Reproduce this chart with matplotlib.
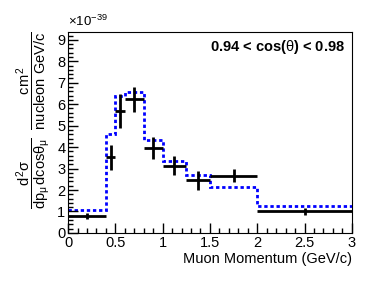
import numpy as np
import matplotlib
matplotlib.use('Agg')
import matplotlib.pyplot as plt
from matplotlib.ticker import MultipleLocator, FormatStrFormatter

plt.rcParams['font.family'] = ['Liberation Sans', 'DejaVu Sans']
plt.rcParams['mathtext.fontset'] = 'custom'
plt.rcParams['mathtext.rm'] = 'Liberation Sans'
plt.rcParams['mathtext.it'] = 'Liberation Sans'
plt.rcParams['mathtext.bf'] = 'Liberation Sans:bold'

# muon momentum bins (GeV/c), cross sections in units of 1e-39 cm^2/nucleon/(GeV/c)
bin_edges = [0.0, 0.4, 0.5, 0.6, 0.8, 1.0, 1.25, 1.5, 2.0, 3.0]
data_x = [0.2, 0.45, 0.55, 0.7, 0.9, 1.125, 1.375, 1.75, 2.5]
data_y = [0.80, 3.53, 5.70, 6.22, 3.96, 3.14, 2.46, 2.66, 1.00]
data_err = [0.14, 0.58, 0.79, 0.59, 0.52, 0.43, 0.44, 0.31, 0.15]
mc_y = [1.06, 4.61, 6.39, 6.56, 4.35, 3.36, 2.72, 2.15, 1.25]

edges = np.array(bin_edges)
x = np.array(data_x)
xerr = [x - edges[:-1], edges[1:] - x]

fig = plt.figure(figsize=(3.87, 2.83), dpi=100)
ax = fig.add_axes([0.176, 0.177, 0.733, 0.711])

ax.stairs(mc_y, edges, baseline=None, color='#0000ff', lw=2,
          linestyle=(0, (1.2, 1.0)))
ax.errorbar(x, data_y, xerr=xerr, yerr=data_err, fmt='none',
            ecolor='black', elinewidth=2, capsize=0)

ax.set_xlim(0, 3)
ax.set_ylim(0, 9.38)
ax.xaxis.set_major_locator(MultipleLocator(0.5))
ax.xaxis.set_minor_locator(MultipleLocator(0.1))
ax.xaxis.set_major_formatter(FormatStrFormatter('%g'))
ax.yaxis.set_major_locator(MultipleLocator(1))
ax.yaxis.set_minor_locator(MultipleLocator(0.2))
ax.tick_params(which='both', direction='in', top=False, right=False,
               labelsize=10.5, pad=2)
ax.tick_params(which='major', length=7, width=1)
ax.tick_params(which='minor', length=3.5, width=1)

ax.set_xlabel('Muon Momentum (GeV/c)', fontsize=10.5, loc='right', labelpad=2)
ax.set_ylabel(r'$\dfrac{d^{2}\sigma}{dp_{\mu}\,dcos\theta_{\mu}}\ \ '
              r'\dfrac{cm^{2}}{nucleon\ GeV/c}$', fontsize=10.5, loc='top',
              labelpad=3)
ax.text(0.0, 1.012, r'$\times10^{-39}$', transform=ax.transAxes,
        fontsize=9.5, ha='left', va='bottom')
ax.text(0.975, 0.925, r'0.94 < cos($\theta$) < 0.98',
        transform=ax.transAxes, fontsize=10.5, fontweight='bold',
        ha='right', va='center')

fig.savefig('out.png', dpi=100)
